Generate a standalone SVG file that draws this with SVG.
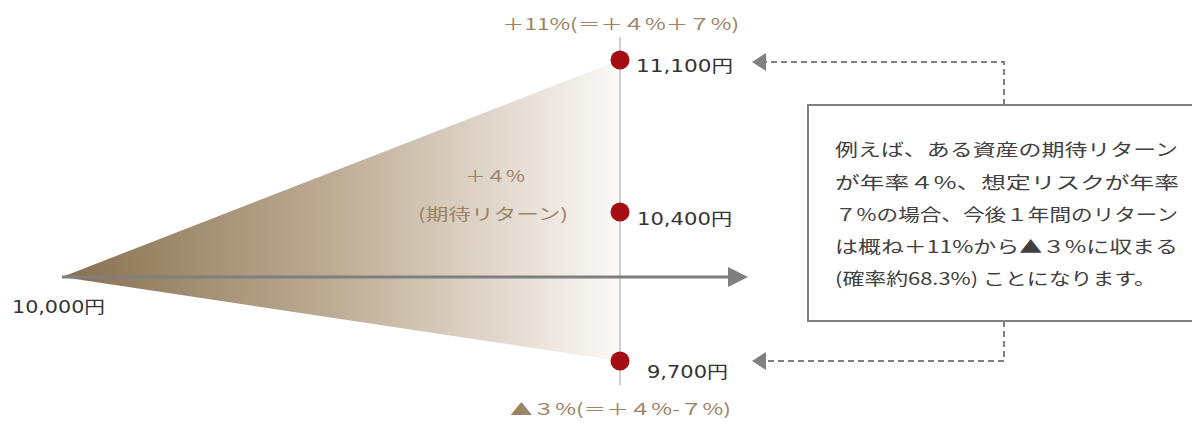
<svg xmlns="http://www.w3.org/2000/svg" width="1192" height="433" viewBox="0 0 1192 433">
<defs>
<linearGradient id="cone" x1="62" y1="0" x2="620" y2="0" gradientUnits="userSpaceOnUse">
<stop offset="0" stop-color="#87704f"/>
<stop offset="0.5" stop-color="#bfae97"/>
<stop offset="1" stop-color="#fbf9f7"/>
</linearGradient>
<marker id="ah" viewBox="0 0 14 18" refX="0" refY="9" markerWidth="14" markerHeight="18" markerUnits="userSpaceOnUse" orient="auto">
<path d="M0,0 L14,9 L0,18 Z" fill="#808080"/>
</marker>
<style>
.lbl{font-family:"DejaVu Sans","Noto Sans CJK JP",sans-serif;font-size:17px;fill:#333333}
.br{font-family:"Noto Sans CJK JP","DejaVu Sans",sans-serif;font-size:16px;fill:#9c8365}
.box{font-family:"Noto Sans CJK JP","DejaVu Sans",sans-serif;font-size:17px;fill:#404040}
.dot{fill:#a50d14}
.dash{fill:none;stroke:#808080;stroke-width:2;stroke-dasharray:6 4}
</style>
</defs>
<g id="cone-shape">
<polygon points="62,277 620,60 620,361" fill="url(#cone)"/>
</g>
<g id="axis">
<line x1="620" y1="37" x2="620" y2="385" stroke="#d0d0d0" stroke-width="2"/>
</g>
<g id="connectors">
<line x1="62" y1="277" x2="730" y2="277" stroke="#7f7f7f" stroke-width="3"/>
<polygon points="728,267 748,277 728,287" fill="#7f7f7f"/>
<polyline class="dash" points="1004,105 1004,62 766,62" marker-end="url(#ah)"/>
<polyline class="dash" points="1004,321 1004,361 766,361" marker-end="url(#ah)"/>
</g>
<g id="node-top">
<circle class="dot" cx="620" cy="60" r="9.5"/>
<text class="lbl" x="636" y="72" textLength="97" lengthAdjust="spacingAndGlyphs">11,100円</text>
<text class="br" x="502" y="30" textLength="237" lengthAdjust="spacingAndGlyphs">＋11%(＝＋４%＋７%)</text>
</g>
<g id="node-mid">
<circle class="dot" cx="620" cy="212" r="9.5"/>
<text class="lbl" x="637" y="225" textLength="95" lengthAdjust="spacingAndGlyphs">10,400円</text>
<text class="br" x="465" y="182" textLength="60" lengthAdjust="spacingAndGlyphs">＋４%</text>
<text class="br" x="418" y="220" textLength="150" lengthAdjust="spacingAndGlyphs">(期待リターン)</text>
</g>
<g id="node-bottom">
<circle class="dot" cx="620" cy="361" r="9.5"/>
<text class="lbl" x="647" y="378" textLength="81" lengthAdjust="spacingAndGlyphs">9,700円</text>
<text class="br" x="510" y="415" textLength="221" lengthAdjust="spacingAndGlyphs">▲３%(＝＋４%-７%)</text>
</g>
<g id="node-start">
<text class="lbl" x="12" y="313" textLength="93" lengthAdjust="spacingAndGlyphs">10,000円</text>
</g>
<g id="note">
<rect x="808" y="105" width="420" height="216" fill="#ffffff" stroke="#808080" stroke-width="2"/>
<text class="box" x="835" y="156" textLength="343" lengthAdjust="spacingAndGlyphs">例えば、ある資産の期待リターン</text>
<text class="box" x="835" y="189" textLength="344" lengthAdjust="spacingAndGlyphs">が年率４%、想定リスクが年率</text>
<text class="box" x="835" y="221" textLength="343" lengthAdjust="spacingAndGlyphs">７%の場合、今後１年間のリターン</text>
<text class="box" x="835" y="253" textLength="343" lengthAdjust="spacingAndGlyphs">は概ね＋11%から▲３%に収まる</text>
<text class="box" x="835" y="285" textLength="321" lengthAdjust="spacingAndGlyphs">(確率約68.3%) ことになります。</text>
</g>
</svg>
